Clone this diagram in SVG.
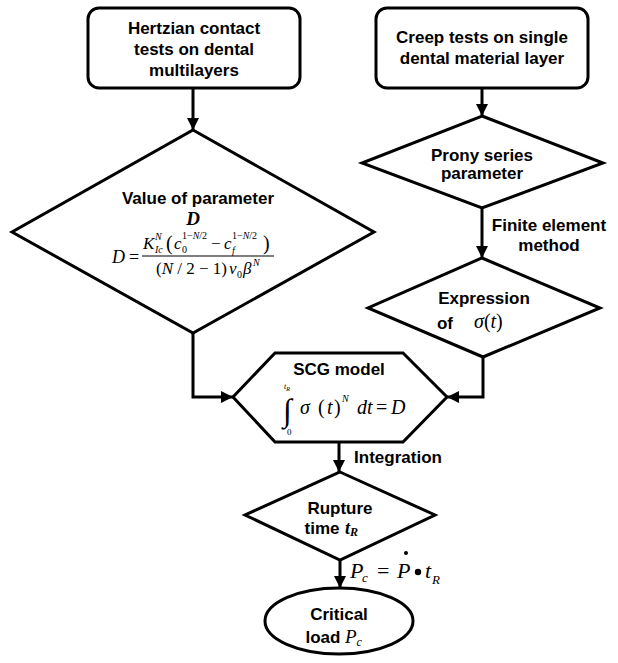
<svg xmlns="http://www.w3.org/2000/svg" width="618" height="663" viewBox="0 0 618 663">
<style>
.shape{fill:#fff;stroke:#000;stroke-width:3;stroke-linejoin:miter}
.conn{fill:none;stroke:#000;stroke-width:3}
.lbl{font-family:"Liberation Sans",Arial,sans-serif;font-weight:bold;font-size:17px;fill:#000;text-anchor:middle}
.m{font-family:"Liberation Serif","Times New Roman",serif;font-style:italic;fill:#000}
.r{font-family:"Liberation Serif","Times New Roman",serif;fill:#000}
</style>
<defs>
<marker id="arr" viewBox="0 0 10 10" refX="10" refY="5" markerWidth="4" markerHeight="4" orient="auto" markerUnits="strokeWidth">
<path d="M0,0 L10,5 L0,10 z" fill="#000"/>
</marker>
</defs>
<rect width="618" height="663" fill="#fff"/>
<g id="connectors">
<path class="conn" d="M193,88 V130" marker-end="url(#arr)"/>
<path class="conn" d="M482,88 V116" marker-end="url(#arr)"/>
<path class="conn" d="M482,208 V258" marker-end="url(#arr)"/>
<path class="conn" d="M193,333 V397 H233" marker-end="url(#arr)"/>
<path class="conn" d="M483,357 V397 H447" marker-end="url(#arr)"/>
<path class="conn" d="M339,442 V472" marker-end="url(#arr)"/>
<path class="conn" d="M340,560 V588" marker-end="url(#arr)"/>
<text class="lbl" x="549" y="231">Finite element</text>
<text class="lbl" x="549" y="251">method</text>
<text class="lbl" x="398" y="463">Integration</text>
<g id="pc-formula">
<text class="m" x="350" y="578" font-size="22">P</text>
<text class="m" x="362" y="582" font-size="13">c</text>
<text class="r" x="377" y="578" font-size="22">=</text>
<text class="m" x="397" y="578" font-size="22">P</text>
<circle cx="406" cy="553" r="2"/>
<circle cx="418" cy="572" r="3.2"/>
<text class="m" x="425" y="578" font-size="22">t</text>
<text class="m" x="432" y="584" font-size="13">R</text>
</g>
</g>
<g id="hertzian">
<rect class="shape" x="88" y="8" width="212" height="80" rx="11"/>
<text class="lbl" x="194" y="34">Hertzian contact</text>
<text class="lbl" x="194" y="55">tests on dental</text>
<text class="lbl" x="194" y="76">multilayers</text>
</g>
<g id="creep">
<rect class="shape" x="376" y="8" width="212" height="80" rx="11"/>
<text class="lbl" x="482" y="43">Creep tests on single</text>
<text class="lbl" x="482" y="64">dental material layer</text>
</g>
<g id="value-d">
<path class="shape" d="M193,130 L374,232 L193,333 L12,232 Z"/>
<text class="lbl" x="198" y="204">Value of parameter</text>
<text class="m" x="193" y="225" font-size="19" font-weight="bold" text-anchor="middle">D</text>
<text class="m" x="112" y="263" font-size="18">D</text>
<text class="r" x="129" y="263" font-size="18">=</text>
<text class="m" x="143" y="249" font-size="17">K</text>
<text class="m" x="155" y="240" font-size="10">N</text>
<text class="m" x="155" y="253" font-size="10">Ic</text>
<text class="r" x="166" y="250" font-size="20">(</text>
<text class="m" x="174" y="249" font-size="17">c</text>
<text class="r" x="182" y="253" font-size="10">0</text>
<text class="r" x="182" y="239" font-size="10">1−<tspan font-style="italic">N</tspan>/2</text>
<text class="r" x="211" y="249" font-size="17">−</text>
<text class="m" x="224" y="249" font-size="17">c</text>
<text class="m" x="232" y="254" font-size="10">f</text>
<text class="r" x="232" y="239" font-size="10">1−<tspan font-style="italic">N</tspan>/2</text>
<text class="r" x="263" y="250" font-size="20">)</text>
<line x1="142" y1="256" x2="274" y2="256" stroke="#000" stroke-width="1.2"/>
<text class="r" x="156" y="274" font-size="17">(<tspan font-style="italic">N</tspan> / 2 − 1)</text>
<text class="m" x="229" y="274" font-size="17">v</text>
<text class="r" x="237" y="278" font-size="10">0</text>
<text class="m" x="243" y="274" font-size="17">β</text>
<text class="m" x="253" y="266" font-size="10">N</text>
</g>
<g id="prony">
<path class="shape" d="M482,116 L603,163 L482,208 L362,163 Z"/>
<text class="lbl" x="482" y="161">Prony series</text>
<text class="lbl" x="482" y="179">parameter</text>
</g>
<g id="expression">
<path class="shape" d="M482,258 L600,308 L483,357 L368,308 Z"/>
<text class="lbl" x="484" y="304">Expression</text>
<text class="lbl" x="445" y="329">of</text>
<text class="m" x="474" y="328" font-size="20">σ<tspan font-style="normal">(</tspan>t<tspan font-style="normal">)</tspan></text>
</g>
<g id="scg">
<path class="shape" d="M275,353 L403,353 L447,397 L403,442 L275,442 L233,397 Z"/>
<text class="lbl" x="339" y="375">SCG model</text>
<text class="r" x="283" y="421" font-size="32">∫</text>
<text class="m" x="284" y="389" font-size="8">t<tspan font-size="6" dy="2">R</tspan></text>
<text class="r" x="287" y="435" font-size="9">0</text>
<text class="m" x="300" y="414" font-size="20">σ</text>
<text class="r" x="318" y="414" font-size="20">(</text>
<text class="m" x="327" y="414" font-size="20">t</text>
<text class="r" x="334" y="414" font-size="20">)</text>
<text class="m" x="342" y="402" font-size="10">N</text>
<text class="m" x="357" y="414" font-size="20">dt</text>
<text class="r" x="376" y="414" font-size="20">=</text>
<text class="m" x="391" y="414" font-size="20">D</text>
</g>
<g id="rupture">
<path class="shape" d="M340,472 L435,515 L340,560 L245,515 Z"/>
<text class="lbl" x="340" y="514">Rupture</text>
<text class="lbl" x="322" y="534">time</text>
<text class="m" x="345" y="534" font-size="18" font-weight="bold">t<tspan font-size="12" dy="2">R</tspan></text>
</g>
<g id="critical">
<ellipse class="shape" cx="339" cy="621" rx="74" ry="33"/>
<text class="lbl" x="339" y="620">Critical</text>
<text class="lbl" x="323" y="643">load</text>
<text class="m" x="345" y="643" font-size="19">P<tspan font-size="12" dy="3">c</tspan></text>
</g>
</svg>
